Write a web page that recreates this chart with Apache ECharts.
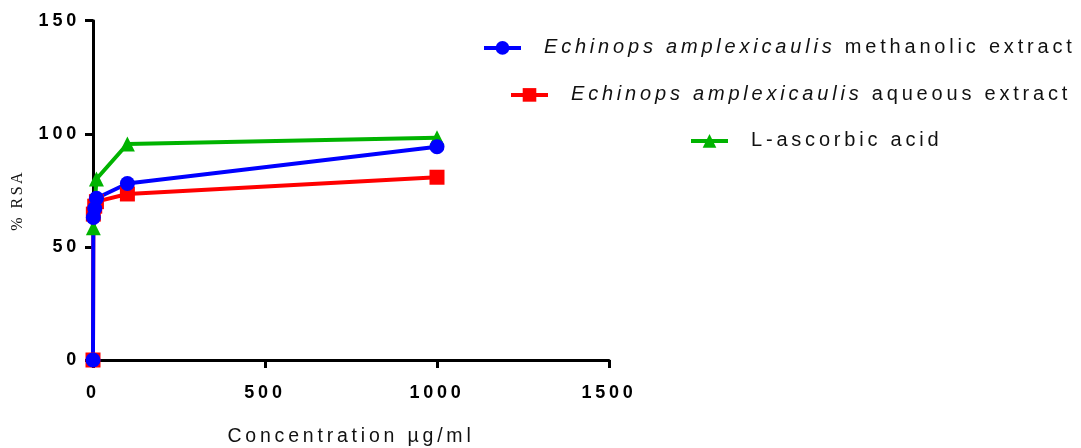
<!DOCTYPE html>
<html>
<head>
<meta charset="utf-8">
<script src="https://cdn.jsdelivr.net/npm/echarts@6/dist/echarts.min.js"></script>
<style>
html,body{margin:0;padding:0;background:#fff;}
#chart{width:1081px;height:448px;}
</style>
</head>
<body>
<div id="chart"></div>
<script>
// ---- data ----
const xTicks = [0, 500, 1000, 1500];
const yTicks = [0, 50, 100, 150];
const seriesNames = [
  'Echinops amplexicaulis methanolic extract',
  'Echinops amplexicaulis aqueous extract',
  'L-ascorbic acid'
];
const methanolicConc = [0, 1, 5, 10, 100, 1000];
const methanolicRSA  = [0, 63, 67, 71.5, 78, 94.3];
const aqueousConc = [0, 1, 5, 10, 100, 1000];
const aqueousRSA  = [0, 64.5, 68, 70, 73.4, 80.8];
const ascorbicConc = [1, 10, 100, 1000];
const ascorbicRSA  = [58.5, 80, 95.5, 98.2];

// letter spacing for canvas text (the reference uses widely spaced text)
(function(){
  const proto = CanvasRenderingContext2D.prototype;
  const desc = Object.getOwnPropertyDescriptor(proto, 'font');
  if (!desc || !('letterSpacing' in proto)) return;
  Object.defineProperty(proto, 'font', {
    configurable: true,
    get(){ return desc.get.call(this); },
    set(v){
      desc.set.call(this, v);
      this.letterSpacing = /Liberation Serif/.test(v) ? '2.5px' : '3.8px';
    }
  });
})();

const pairs = (xs, ys) => xs.map((x, i) => [x, ys[i]]);
const SANS = 'Liberation Sans, Arial, sans-serif';

const chart = echarts.init(document.getElementById('chart'), null, {renderer: 'canvas'});

function legendAt(name, left, top, rich){
  return {
    data: [name],
    left: left, top: top,
    orient: 'horizontal',
    padding: 0,
    itemWidth: 37,
    itemHeight: 17,
    selectedMode: false,
    formatter: rich,
    lineStyle: {width: 4},
    textStyle: {
      color: '#111',
      fontFamily: SANS,
      fontSize: 20,
      padding: [0, 0, 0, 18],
      rich: {
        i: {fontStyle: 'italic', fontFamily: SANS, fontSize: 20, color: '#111'},
        n: {fontFamily: SANS, fontSize: 20, color: '#111'}
      }
    }
  };
}

const option = {
  animation: false,
  legend: [
    legendAt(seriesNames[0], 482, 36, () => '{i|Echinops amplexicaulis}{n| methanolic extract}'),
    legendAt(seriesNames[1], 509, 83, () => '{i|Echinops amplexicaulis}{n| aqueous extract}'),
    legendAt(seriesNames[2], 689, 129, () => '{n|L-ascorbic acid}')
  ],
  grid: {left: 93, right: 472, top: 20.7, bottom: 88, containLabel: false, outerBoundsMode: 'none'},
  xAxis: {
    type: 'value',
    min: xTicks[0], max: xTicks[xTicks.length - 1], interval: 500,
    name: 'Concentration µg/ml',
    nameLocation: 'middle',
    nameGap: 65,
    nameTextStyle: {fontFamily: SANS, fontSize: 19.5, color: '#111'},
    axisLine: {show: true, lineStyle: {color: '#000', width: 3}},
    axisTick: {show: true, length: 8, lineStyle: {color: '#000', width: 3}},
    axisLabel: {margin: 22, fontFamily: SANS, fontSize: 18, fontWeight: 'bold', color: '#000',
      formatter: v => String(v)},
    splitLine: {show: false}
  },
  yAxis: {
    type: 'value',
    min: yTicks[0], max: yTicks[yTicks.length - 1], interval: 50,
    name: '% RSA',
    nameLocation: 'middle',
    nameGap: 66,
    nameTextStyle: {fontFamily: 'Liberation Serif, Times New Roman, serif', fontSize: 16, color: '#111', padding: [0, 20, 0, 0]},
    axisLine: {show: true, lineStyle: {color: '#000', width: 3}},
    axisTick: {show: true, length: 8, lineStyle: {color: '#000', width: 3}},
    axisLabel: {margin: 13, fontFamily: SANS, fontSize: 18, fontWeight: 'bold', color: '#000',
      formatter: v => String(v)},
    splitLine: {show: false}
  },
  series: [
    {
      name: seriesNames[2], type: 'line', data: pairs(ascorbicConc, ascorbicRSA),
      symbol: 'triangle', symbolSize: 15,
      lineStyle: {color: '#00b300', width: 4},
      itemStyle: {color: '#00b300'}
    },
    {
      name: seriesNames[1], type: 'line', data: pairs(aqueousConc, aqueousRSA),
      symbol: 'rect', symbolSize: 15,
      lineStyle: {color: '#ff0000', width: 4},
      itemStyle: {color: '#ff0000'}
    },
    {
      name: seriesNames[0], type: 'line', data: pairs(methanolicConc, methanolicRSA),
      symbol: 'circle', symbolSize: 15,
      lineStyle: {color: '#0000ff', width: 4},
      itemStyle: {color: '#0000ff'}
    }
  ]
};
chart.setOption(option);
</script>
</body>
</html>
